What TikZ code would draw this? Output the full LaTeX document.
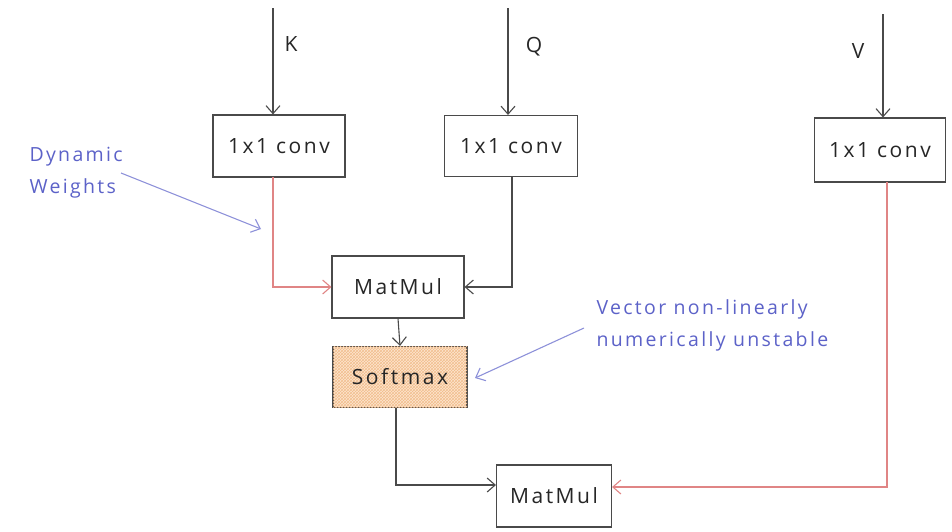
\documentclass[tikz,border=0pt]{standalone}
\usepackage{fontspec}
\setmainfont{Open Sans}
\newfontfamily\sketchfont[LetterSpace=12]{Open Sans}
\usetikzlibrary{arrows.meta,patterns}
\definecolor{inkgray}{HTML}{4A4A4A}
\definecolor{linkred}{HTML}{E08585}
\definecolor{notebl}{HTML}{5C62C8}
\definecolor{softorange}{HTML}{FDE6CF}
\definecolor{hatch}{HTML}{F2BE8E}
\begin{document}
\begin{tikzpicture}[x=1pt,y=-1pt,
  opbox/.style={draw=inkgray,line width=1.1pt,fill=white,inner sep=0pt,
    font=\sketchfont\fontsize{21}{23}\selectfont,text=black!85},
  tip/.style={-{Straight Barb[length=8pt,width=14pt,line width=1.1pt]}},
  flow/.style={tip,draw=inkgray,line width=1.1pt},
  redflow/.style={tip,draw=linkred,line width=1.1pt},
  note/.style={text=notebl,font=\sketchfont\fontsize{19.5}{32}\selectfont,align=left},
  notearrow/.style={tip,draw=notebl!70,line width=1.1pt},
  inlabel/.style={font=\sketchfont\fontsize{21}{23}\selectfont,text=black!85}]
\useasboundingbox (0,0) rectangle (952,531);

% operation boxes
\node[opbox,minimum width=132pt,minimum height=62pt] (kc) at (279,146) {1x1 conv};
\node[opbox,minimum width=133pt,minimum height=61pt] (qc) at (511,146) {1x1 conv};
\node[opbox,minimum width=131pt,minimum height=64pt] (vc) at (880,150) {1x1 conv};
\node[opbox,minimum width=132pt,minimum height=62pt] (mm1) at (398,287) {MatMul};
\node[opbox,minimum width=134pt,minimum height=61pt,fill=softorange,
  postaction={pattern=crosshatch,pattern color=hatch}] (sm) at (400,377) {Softmax};
\node[opbox,minimum width=115pt,minimum height=62pt] (mm2) at (554,496) {MatMul};

% inputs
\coordinate (kin) at (273,8);
\coordinate (qin) at (508,8);
\coordinate (vin) at (883,14);
\draw[flow] (kin) -- (kin |- kc.north);
\draw[flow] (qin) -- (qin |- qc.north);
\draw[flow] (vin) -- (vin |- vc.north);
\node[inlabel] (klab) at (291,44) {K};
\node[inlabel] (qlab) at (534,47) {Q};
\node[inlabel] (vlab) at (858,51) {V};

% data flow
\coordinate (kout) at (273,177);
\draw[redflow] (kout) |- (mm1.west);
\coordinate (qout) at (512,177);
\draw[flow] (qout) |- (mm1.east);
\draw[flow] (mm1.south) -- (sm.north);
\coordinate (smout) at (396,408);
\draw[flow] (smout) |- ([yshift=11pt]mm2.west);
\coordinate (vout) at (887,182);
\draw[redflow] (vout) |- ([yshift=9pt]mm2.east);

% annotations
\node[note,anchor=west] (dw) at (26,173) {Dynamic\\Weights};
\coordinate (dwa) at (121,173);
\coordinate (dwb) at (261,229);
\draw[notearrow] (dwa) -- (dwb);
\node[note,anchor=west] (vn) at (593,325) {Vector non-linearly\\numerically unstable};
\coordinate (vna) at (584,328);
\coordinate (vnb) at (475,378);
\draw[notearrow] (vna) -- (vnb);
\end{tikzpicture}
\end{document}
